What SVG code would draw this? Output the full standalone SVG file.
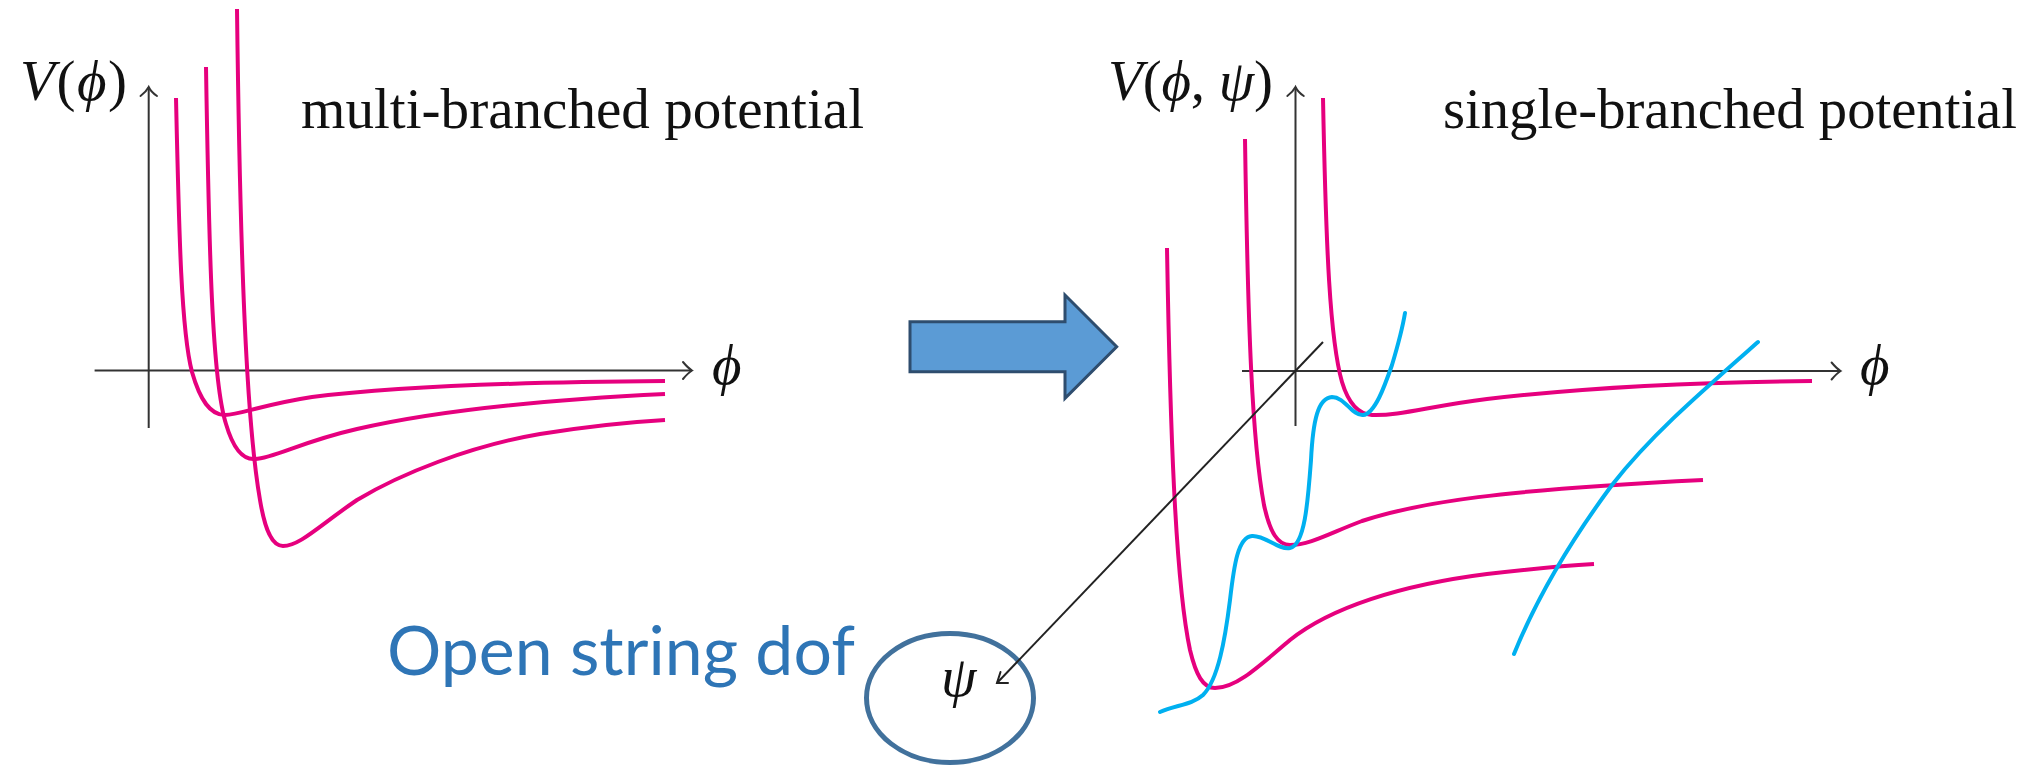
<svg xmlns="http://www.w3.org/2000/svg" width="2029" height="768" viewBox="0 0 2029 768">
<style>
.axis{stroke:#333;stroke-width:2;fill:none}
.ah{stroke:#333;stroke-width:2;fill:none;stroke-linecap:round}
.pk{stroke:#E6007E;stroke-width:4;fill:none;stroke-linecap:butt}
.cy{stroke:#00B0F0;stroke-width:4;fill:none;stroke-linecap:round}
.math{font-family:"Liberation Serif","DejaVu Serif",serif;font-size:57px;fill:#111}
.it{font-style:italic}
.lbl{font-family:"Liberation Serif","DejaVu Serif",serif;font-size:56px;fill:#111}
.blue{font-family:Lato,"Open Sans",sans-serif;font-size:67px;fill:#2E75B6}
</style>
<rect width="2029" height="768" fill="#fff"/>
<g id="left-plot">
<path class="axis" d="M94.6,370.5 H692"/>
<path class="ah" d="M683,362 Q688,368 692,370.5 Q688,373 683,379"/>
<path class="axis" d="M148.7,428 V87"/>
<path class="ah" d="M140.5,96 Q146,92 148.7,87 Q151,92 157,96"/>
<path class="pk" d="M176,98 C179,230 181,330 192,372 C200,400 210,415 225,415 C240,415 260,405 312,397 C400,386 520,382 665,381"/>
<path class="pk" d="M206,67 C209,250 212,380 226,424 C233,448 243,460 255,459 C275,458 300,442 357,429 C430,412 540,400 665,394"/>
<path class="pk" d="M237,9 C240,250 246,420 260,500 C265,530 272,546 283,546 C300,546 320,525 357,500 C400,474 470,446 540,434 C590,426 630,422 665,420"/>
<text class="math" x="20" y="100" textLength="107" lengthAdjust="spacing"><tspan class="it">V</tspan>(<tspan class="it">ϕ</tspan>)</text>
<text class="math it" x="712" y="384">ϕ</text>
<text class="lbl" x="301" y="128" textLength="563" lengthAdjust="spacingAndGlyphs">multi-branched potential</text>
</g>
<g id="block-arrow">
<path d="M910,321.7 H1065 V295 L1116.7,346.7 L1065,398.3 V371.7 H910 Z" fill="#5B9BD5" stroke="#2E4D6E" stroke-width="3" stroke-linejoin="miter"/>
</g>
<g id="right-plot">
<path class="axis" d="M1242,371 H1840.6"/>
<path class="ah" d="M1831.6,362.5 Q1836.6,368.5 1840.6,371 Q1836.6,373.5 1831.6,379.5"/>
<path class="axis" d="M1295.5,426 V87"/>
<path class="ah" d="M1287.3,96 Q1292.8,92 1295.5,87 Q1297.8,92 1303.8,96"/>
<path class="pk" d="M1323,98 C1326,250 1330,340 1342,382 C1348,402 1357,414 1372,415 C1400,416 1430,406 1487,399 C1580,388 1700,382 1812,381"/>
<path class="pk" d="M1245,139 C1248,330 1252,440 1264,505 C1270,533 1278,545 1290,545 C1310,545 1330,533 1362,521 C1420,502 1500,490 1703,480"/>
<path class="pk" d="M1167,248 C1170,420 1175,580 1190,650 C1196,675 1203,688 1215,688 C1235,688 1255,670 1290,640 C1330,608 1400,585 1487,574 C1530,569 1560,566 1594,564"/>
<path class="cy" d="M1160,712 C1175,705 1192,705 1203,695 C1218,680 1225,640 1230,600 C1234,565 1238,537 1252,536 C1265,535 1278,550 1290,548 C1305,545 1308,500 1311,460 C1313,420 1318,398 1332,397 C1345,397 1352,416 1363,415 C1375,414 1385,385 1392,365 C1398,345 1403,325 1405,313"/>
<path class="cy" d="M1514,654 C1540,590 1575,535 1612,485 C1650,436 1700,393 1758,342"/>
<text class="math" x="1108" y="100" textLength="165" lengthAdjust="spacing"><tspan class="it">V</tspan>(<tspan class="it">ϕ</tspan>, <tspan class="it">ψ</tspan>)</text>
<text class="math it" x="1860" y="384">ϕ</text>
<text class="lbl" x="1443" y="128" textLength="574" lengthAdjust="spacingAndGlyphs">single-branched potential</text>
</g>
<g id="psi-node">
<ellipse cx="950" cy="698" rx="83.5" ry="64.5" fill="none" stroke="#41719C" stroke-width="5"/>
<text class="math it" x="941" y="696">ψ</text>
</g>
<g id="label-open-string">
<text class="blue" x="387" y="675" textLength="468" lengthAdjust="spacingAndGlyphs">Open string dof</text>
</g>
<g id="connectors">
<path d="M1323,342 L997,683" stroke="#222" stroke-width="2" fill="none"/>
<path d="M1000.5,672 L997,683 L1008,683" stroke="#222" stroke-width="2" fill="none" stroke-linecap="round"/>
</g>
</svg>
